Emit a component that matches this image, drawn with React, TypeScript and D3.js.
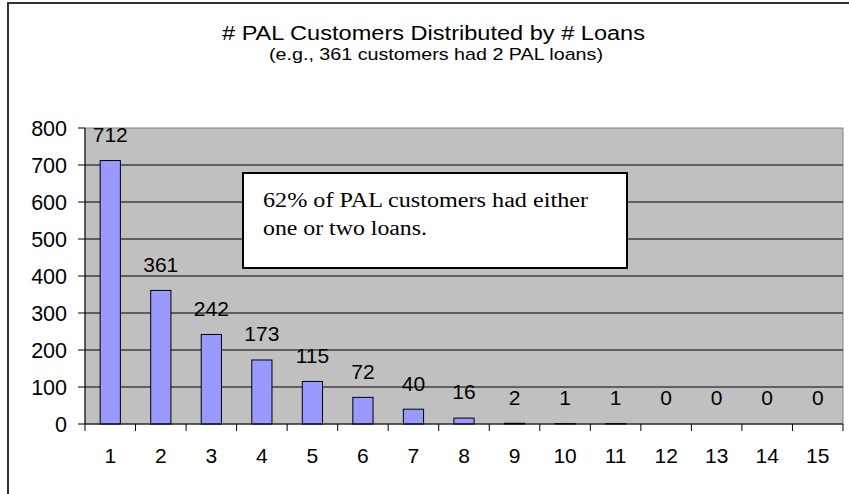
import React from "react";
import * as d3 from "d3";

const categories = ["1","2","3","4","5","6","7","8","9","10","11","12","13","14","15"];
const values = [712, 361, 242, 173, 115, 72, 40, 16, 2, 1, 1, 0, 0, 0, 0];
const yTicks = [0, 100, 200, 300, 400, 500, 600, 700, 800];
const title = "# PAL Customers Distributed by # Loans";
const subtitle = "(e.g., 361 customers had 2 PAL loans)";
const noteLines = ["62% of PAL customers had either", "one or two loans."];
const noteWidths = [325, 164];

export default function App() {
  const W = 849, H = 494;
  const left = 85, right = 843, top = 128, bottom = 424;
  const x = d3.scaleBand<string>().domain(categories).range([left, right]).paddingInner(0.6).paddingOuter(0.3);
  const xb = d3.scaleBand<string>().domain(categories).range([left, right]);
  const y = d3.scaleLinear().domain([0, 800]).range([bottom, top]);
  const sans = "'Liberation Sans', Arial, sans-serif";
  return (
    <svg width={W} height={H} style={{ position: "absolute", left: 0, top: 0 }}>
      <rect x={0} y={0} width={W} height={H} fill="#fff" />
      <rect x={8} y={3} width={W + 10} height={H + 10} fill="#fff" stroke="#333" strokeWidth={2} />
      <text x={222} y={39.5} fontFamily={sans} fontSize={20} textLength={423} lengthAdjust="spacingAndGlyphs">{title}</text>
      <text x={269} y={60} fontFamily={sans} fontSize={17} textLength={334} lengthAdjust="spacingAndGlyphs">{subtitle}</text>
      <rect x={left} y={top} width={right - left} height={bottom - top} fill="#c0c0c0" stroke="#808080" strokeWidth={1} />
      {yTicks.map(t => (
        <g key={t}>
          {t > 0 && t < 800 && <line x1={left} x2={right} y1={y(t)} y2={y(t)} stroke="#000" strokeWidth={1} />}
          <line x1={78} x2={left} y1={y(t)} y2={y(t)} stroke="#000" strokeWidth={1} />
          <text x={67} y={y(t) + 7.7} textAnchor="end" fontFamily={sans} fontSize={21.5}>{t}</text>
        </g>
      ))}
      {values.map((v, i) => {
        const c = categories[i];
        const bx = x(c)!;
        return (
          <g key={c}>
            {v > 0 && <rect x={bx} y={y(v)} width={x.bandwidth()} height={bottom - y(v)} fill="#9999ff" stroke="#000" strokeWidth={1} />}
            <text x={xb(c)! + xb.bandwidth() / 2} y={y(v) - 18.6} textAnchor="middle" fontFamily={sans} fontSize={21}>{v}</text>
          </g>
        );
      })}
      <line x1={left} x2={left} y1={top} y2={bottom} stroke="#000" strokeWidth={1} />
      <line x1={left} x2={right} y1={bottom} y2={bottom} stroke="#000" strokeWidth={1} />
      {categories.map(c => (
        <line key={"t" + c} x1={xb(c)!} x2={xb(c)!} y1={bottom} y2={bottom + 7} stroke="#000" />
      ))}
      <line x1={right} x2={right} y1={bottom} y2={bottom + 7} stroke="#000" />
      {categories.map(c => (
        <text key={"l" + c} x={xb(c)! + xb.bandwidth() / 2} y={463} textAnchor="middle" fontFamily={sans} fontSize={21}>{c}</text>
      ))}
      <rect x={243} y={173} width={384} height={95} fill="#fff" stroke="#000" strokeWidth={2} />
      {noteLines.map((l, i) => (
        <text key={i} x={263} y={206.5 + i * 28} fontFamily="'Liberation Serif', 'Times New Roman', serif" fontSize={20} textLength={noteWidths[i]} lengthAdjust="spacingAndGlyphs">{l}</text>
      ))}
    </svg>
  );
}
